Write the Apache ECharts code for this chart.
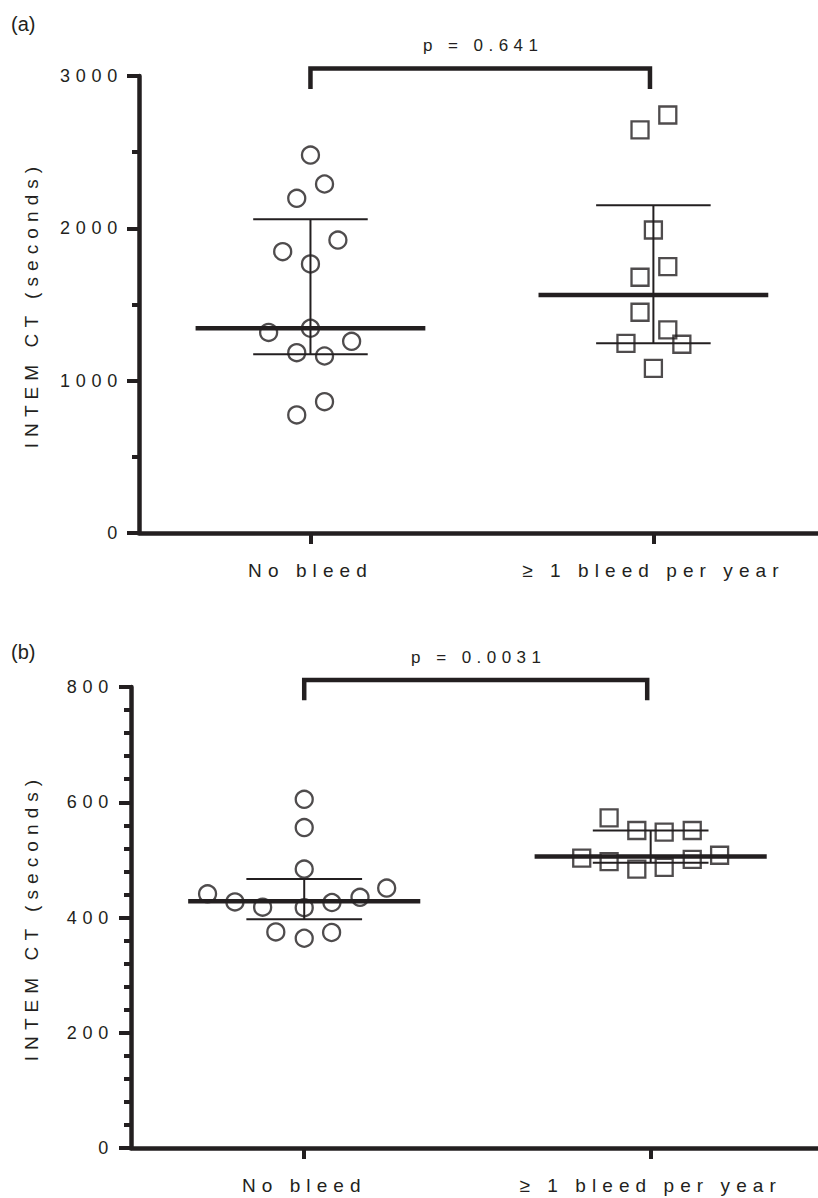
<!DOCTYPE html>
<html>
<head>
<meta charset="utf-8">
<script src="https://cdn.jsdelivr.net/npm/echarts@6/dist/echarts.min.js"></script>
<style>
html, body { margin: 0; padding: 0; background: #ffffff; }
#chart { width: 818px; height: 1198px; }
#chart svg text { letter-spacing: 0.32em; }
</style>
</head>
<body>
<div id="chart"></div>
<script>
// ---------- data ----------
const categories = ['No bleed', '\u2265 1 bleed per year'];
const panelLabels = ['(a)', '(b)'];
const pValues = ['p = 0.641', 'p = 0.0031'];
const yAxisName = 'INTEM CT (seconds)';
const yTicksA = [0, 1000, 2000, 3000];
const yTicksB = [0, 200, 400, 600, 800];

// Panel (a)
const aNoBleed       = [2481, 2291, 2197, 1923, 1847, 1766, 1344, 1317, 1258, 1184, 1162, 862, 775];
const aNoBleedJitter = [0, 0.041, -0.040, 0.080, -0.081, 0, 0, -0.122, 0.120, -0.040, 0.041, 0.041, -0.040];
const aBleed         = [2744, 2646, 1989, 1748, 1679, 1449, 1333, 1245, 1239, 1081];
const aBleedJitter   = [0.042, -0.039, 0, 0.042, -0.039, -0.039, 0.042, -0.080, 0.083, 0];
// [q1, median, q3] per category
const aSummary = [[1173, 1344, 2059], [1245, 1562, 2151]];

// Panel (b)
const bNoBleed       = [605, 556, 484, 451, 441, 435, 427, 426, 418, 417, 375, 374, 364];
const bNoBleedJitter = [0, 0, 0, 0.238, -0.279, 0.161, -0.200, 0.080, -0.120, 0, -0.082, 0.079, 0];
const bBleed         = [573, 551, 548, 551, 503, 497, 484, 487, 501, 508];
const bBleedJitter   = [-0.120, -0.040, 0.039, 0.120, -0.199, -0.120, -0.040, 0.039, 0.120, 0.199];
const bSummary = [[397, 428, 467], [495, 506, 551]];

// ---------- styling ----------
const ink = '#231f20';
const font = 'Liberation Sans, Arial, Helvetica, sans-serif';

function pts(vals, jit, cat) {
  return vals.map((v, i) => [cat + jit[i], v]);
}

function xAxisCfg(gridIndex) {
  return {
    type: 'value', gridIndex: gridIndex, min: -0.5, max: gridIndex === 0 ? 1.48 : 1.483,
    splitLine: { show: false },
    axisLine: { show: true, onZero: false, lineStyle: { color: ink, width: 4.5 } },
    axisTick: { show: true, customValues: [0, 1], length: 11, lineStyle: { color: ink, width: 4 } },
    axisLabel: {
      show: true, customValues: [0, 1], margin: 37, verticalAlign: 'middle',
      formatter: v => categories[Math.round(v)],
      fontSize: 19, fontFamily: font, color: ink
    }
  };
}

function yAxisCfg(gridIndex, ticks, minorSplit, margin, nameGap) {
  return {
    type: 'value', gridIndex: gridIndex,
    min: ticks[0], max: ticks[ticks.length - 1], interval: ticks[1] - ticks[0],
    name: yAxisName, nameLocation: 'middle', nameGap: nameGap, nameRotate: 90,
    nameTextStyle: { fontSize: 19, fontFamily: font, color: ink },
    splitLine: { show: false },
    axisLine: { show: true, onZero: false, lineStyle: { color: ink, width: 4.5 } },
    axisTick: { show: true, length: 12, lineStyle: { color: ink, width: 4 } },
    minorTick: { show: true, splitNumber: minorSplit, length: 7, lineStyle: { color: ink, width: 4 } },
    minorSplitLine: { show: false },
    axisLabel: { margin: margin, fontSize: 18, fontFamily: font, color: ink, formatter: v => String(v) }
  };
}

function scatterCfg(idx, vals, jit, cat, symbol) {
  return {
    type: 'scatter', xAxisIndex: idx, yAxisIndex: idx,
    symbol: symbol, symbolSize: 17, silent: true, z: 4,
    itemStyle: { color: 'rgba(255,255,255,0)', borderColor: ink, borderWidth: 2.3 },
    data: pts(vals, jit, cat)
  };
}

function summaryCfg(idx, summary) {
  return {
    type: 'custom', xAxisIndex: idx, yAxisIndex: idx, silent: true, z: 3,
    encode: { x: 0, y: [1, 2, 3] },
    data: summary.map((s, i) => [i, s[0], s[1], s[2]]),
    renderItem: function (params, api) {
      const c = api.value(0), q1 = api.value(1), med = api.value(2), q3 = api.value(3);
      const mL = api.coord([c - 0.335, med]), mR = api.coord([c + 0.335, med]);
      const uL = api.coord([c - 0.167, q3]), uR = api.coord([c + 0.167, q3]);
      const lL = api.coord([c - 0.167, q1]), lR = api.coord([c + 0.167, q1]);
      const vT = api.coord([c, q3]), vB = api.coord([c, q1]);
      const thin = { stroke: ink, lineWidth: 2 };
      return {
        type: 'group',
        children: [
          { type: 'line', shape: { x1: vT[0], y1: vT[1], x2: vB[0], y2: vB[1] }, style: thin },
          { type: 'line', shape: { x1: uL[0], y1: uL[1], x2: uR[0], y2: uR[1] }, style: thin },
          { type: 'line', shape: { x1: lL[0], y1: lL[1], x2: lR[0], y2: lR[1] }, style: thin },
          { type: 'line', shape: { x1: mL[0], y1: mL[1], x2: mR[0], y2: mR[1] }, style: { stroke: ink, lineWidth: 4.5 } }
        ]
      };
    }
  };
}

function bracketCfg(idx, yTop, yEnd, label) {
  return {
    type: 'custom', xAxisIndex: idx, yAxisIndex: idx, silent: true, clip: false, z: 5,
    data: [[0, 0.99, yTop, yEnd]],
    renderItem: function (params, api) {
      const x0 = api.value(0), x1 = api.value(1), yt = api.value(2), ye = api.value(3);
      const a = api.coord([x0, ye]), b = api.coord([x0, yt]), c = api.coord([x1, yt]), d = api.coord([x1, ye]);
      return {
        type: 'group',
        children: [
          { type: 'polyline', shape: { points: [a, b, c, d] },
            style: { stroke: ink, lineWidth: 4.5, fill: null, lineJoin: 'miter' } },
          { type: 'text',
            style: { text: label, x: (b[0] + c[0]) / 2 + 3, y: b[1] - 23, align: 'center', verticalAlign: 'middle',
                     fontSize: 17, fontFamily: font, fill: ink } }
        ]
      };
    }
  };
}

const chart = echarts.init(document.getElementById('chart'), null, { renderer: 'svg', width: 818, height: 1198 });

const option = {
  animation: false,
  backgroundColor: '#ffffff',
  title: [
    { text: panelLabels[0], left: 11, top: 14, padding: 0,
      textStyle: { fontSize: 20, fontWeight: 'normal', fontFamily: font, color: ink } },
    { text: panelLabels[1], left: 11, top: 642, padding: 0,
      textStyle: { fontSize: 20, fontWeight: 'normal', fontFamily: font, color: ink } }
  ],
  grid: [
    { left: 139, top: 76, right: 0, height: 457, containLabel: false },
    { left: 131, top: 687, right: 0, height: 461, containLabel: false }
  ],
  xAxis: [xAxisCfg(0), xAxisCfg(1)],
  yAxis: [yAxisCfg(0, yTicksA, 2, 16, 98), yAxisCfg(1, yTicksB, 5, 17, 90)],
  series: [
    summaryCfg(0, aSummary),
    scatterCfg(0, aNoBleed, aNoBleedJitter, 0, 'circle'),
    scatterCfg(0, aBleed, aBleedJitter, 1, 'rect'),
    bracketCfg(0, 3050, 2915, pValues[0]),
    summaryCfg(1, bSummary),
    scatterCfg(1, bNoBleed, bNoBleedJitter, 0, 'circle'),
    scatterCfg(1, bBleed, bBleedJitter, 1, 'rect'),
    bracketCfg(1, 812, 777, pValues[1])
  ]
};

chart.setOption(option);

function fixSpacing() {
  document.querySelectorAll('#chart svg text').forEach(t => {
    if (/^\([ab]\)$/.test(t.textContent.trim())) t.style.letterSpacing = '0px';
  });
}
fixSpacing();
chart.on('finished', fixSpacing);
</script>
</body>
</html>
